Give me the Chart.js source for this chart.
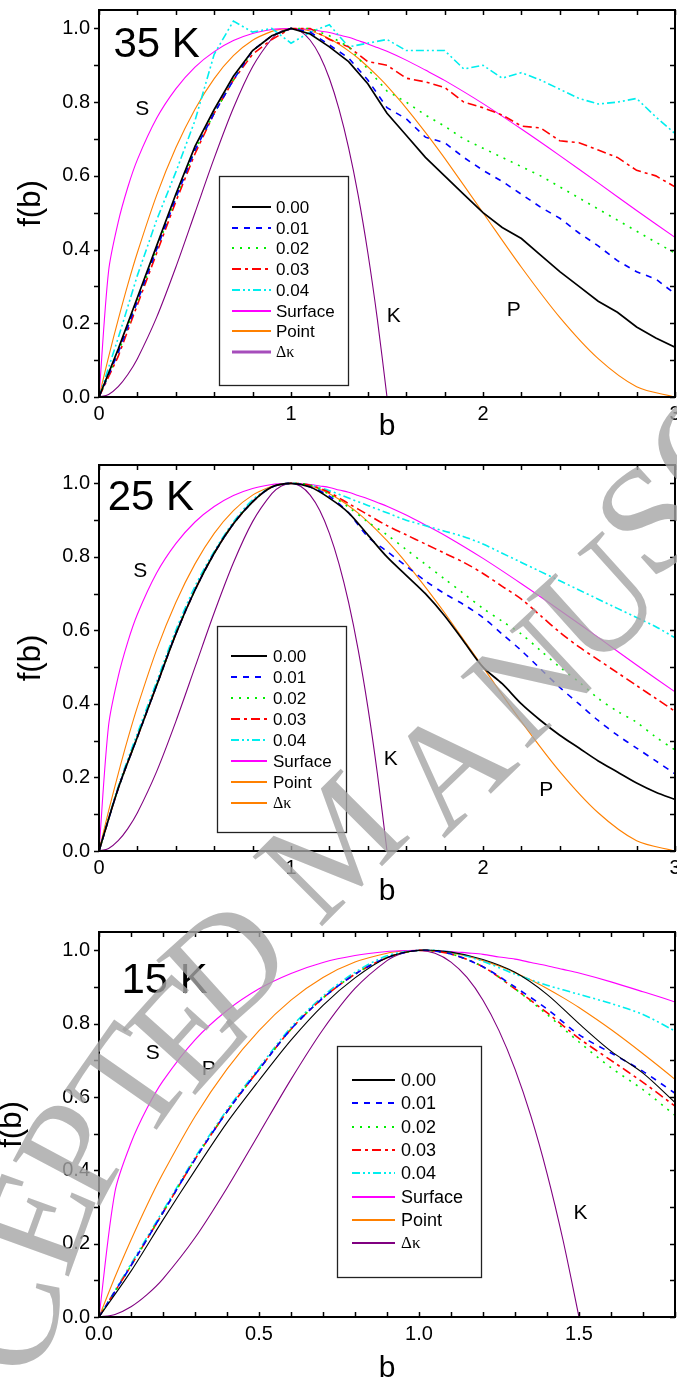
<!DOCTYPE html>
<html>
<head>
<meta charset="utf-8">
<script src="https://cdn.jsdelivr.net/npm/chart.js@4.4.0/dist/chart.umd.min.js"></script>
<style>
body { margin: 0; background: #fff; width: 677px; height: 1383px; position: relative; overflow: hidden; }
canvas { position: absolute; left: 0; }
.wm { position: absolute; font-family: "Liberation Serif", serif; font-size: 150px; line-height: 1;
      color: rgba(165,165,165,0.8); pointer-events: none; }
</style>
</head>
<body>
<canvas id="c35" width="677" height="455" style="top:0px"></canvas>
<canvas id="c25" width="677" height="465" style="top:455px"></canvas>
<canvas id="c15" width="677" height="463" style="top:920px"></canvas>

<!-- watermark -->
<div class="wm" style="left:5px;top:1320px;transform:translate(-50%,-50%) rotate(-80deg)">C</div>
<div class="wm" style="left:35px;top:1220px;transform:translate(-50%,-50%) rotate(-70deg)">E</div>
<div class="wm" style="left:72px;top:1150px;transform:translate(-50%,-50%) rotate(-62deg)">P</div>
<div class="wm" style="left:128px;top:1082px;transform:translate(-50%,-50%) rotate(-55deg)">T</div>
<div class="wm" style="left:185px;top:1030px;transform:translate(-50%,-50%) rotate(-48deg)">E</div>
<div class="wm" style="left:225px;top:962px;transform:translate(-50%,-50%) rotate(-42deg)">D</div>
<div class="wm" style="left:330px;top:846px;transform:translate(-50%,-50%) rotate(-45deg)">M</div>
<div class="wm" style="left:447px;top:765px;transform:translate(-50%,-50%) rotate(-44deg)">A</div>
<div class="wm" style="left:529px;top:677px;transform:translate(-50%,-50%) rotate(-43deg)">N</div>
<div class="wm" style="left:596px;top:600px;transform:translate(-50%,-50%) rotate(-42deg)">U</div>
<div class="wm" style="left:648px;top:518px;transform:translate(-50%,-50%) rotate(-42deg)">S</div>
<div class="wm" style="left:705px;top:445px;transform:translate(-50%,-50%) rotate(-42deg)">C</div>

<script>
// ---- data ----
var bGrid = [0, 0.1, 0.2, 0.3, 0.4, 0.5, 0.6, 0.7, 0.8, 0.9, 1.0, 1.1, 1.2, 1.3, 1.4, 1.5, 1.6, 1.7, 1.8, 1.9, 2.0,
             2.1, 2.2, 2.3, 2.4, 2.5, 2.6, 2.7, 2.8, 2.9, 3.0];
var bGrid15 = [0, 0.1, 0.2, 0.3, 0.4, 0.5, 0.6, 0.7, 0.8, 0.9, 1.0, 1.1, 1.2, 1.3, 1.4, 1.5, 1.6, 1.7, 1.8];

// 35 K
var f35_000 = [0, 0.13, 0.27, 0.41, 0.55, 0.68, 0.78, 0.87, 0.94, 0.98, 1.0, 0.985, 0.95, 0.91, 0.85, 0.77, 0.71, 0.65, 0.6, 0.55, 0.5, 0.46, 0.43, 0.385, 0.34, 0.30, 0.26, 0.23, 0.19, 0.16, 0.135];
var f35_001 = [0, 0.12, 0.26, 0.40, 0.54, 0.67, 0.77, 0.86, 0.94, 0.98, 1.0, 0.99, 0.955, 0.92, 0.86, 0.785, 0.755, 0.705, 0.69, 0.65, 0.615, 0.585, 0.55, 0.515, 0.485, 0.445, 0.41, 0.37, 0.34, 0.32, 0.28];
var f35_002 = [0, 0.12, 0.26, 0.40, 0.54, 0.67, 0.77, 0.86, 0.94, 0.98, 1.0, 1.0, 0.98, 0.95, 0.89, 0.83, 0.80, 0.765, 0.735, 0.70, 0.675, 0.65, 0.625, 0.60, 0.57, 0.54, 0.51, 0.48, 0.45, 0.42, 0.39];
var f35_003 = [0, 0.11, 0.25, 0.39, 0.53, 0.66, 0.77, 0.86, 0.93, 0.97, 1.0, 1.0, 0.97, 0.95, 0.91, 0.9, 0.865, 0.855, 0.84, 0.80, 0.785, 0.765, 0.735, 0.73, 0.695, 0.69, 0.67, 0.65, 0.615, 0.60, 0.57];
var f35_004 = [0, 0.16, 0.33, 0.48, 0.61, 0.75, 0.93, 1.02, 0.99, 1.0, 0.96, 0.99, 1.01, 0.95, 0.96, 0.97, 0.94, 0.94, 0.94, 0.89, 0.9, 0.865, 0.88, 0.86, 0.835, 0.81, 0.795, 0.80, 0.81, 0.76, 0.715];

// 25 K
var f25_000 = [0, 0.17, 0.31, 0.45, 0.59, 0.71, 0.81, 0.89, 0.95, 0.99, 1.0, 0.99, 0.96, 0.92, 0.86, 0.80, 0.75, 0.70, 0.64, 0.57, 0.50, 0.455, 0.40, 0.355, 0.315, 0.28, 0.245, 0.215, 0.185, 0.16, 0.14];
var f25_001 = [0, 0.17, 0.31, 0.45, 0.59, 0.71, 0.81, 0.89, 0.95, 0.99, 1.0, 0.99, 0.965, 0.92, 0.855, 0.815, 0.775, 0.735, 0.70, 0.67, 0.635, 0.59, 0.545, 0.495, 0.445, 0.40, 0.355, 0.315, 0.28, 0.245, 0.21];
var f25_002 = [0, 0.17, 0.31, 0.45, 0.59, 0.71, 0.81, 0.89, 0.95, 0.99, 1.0, 0.995, 0.97, 0.935, 0.895, 0.86, 0.82, 0.78, 0.74, 0.70, 0.66, 0.625, 0.59, 0.545, 0.50, 0.46, 0.415, 0.38, 0.35, 0.31, 0.275];
var f25_003 = [0, 0.17, 0.31, 0.45, 0.59, 0.71, 0.81, 0.89, 0.95, 0.99, 1.0, 0.995, 0.975, 0.945, 0.915, 0.885, 0.86, 0.835, 0.81, 0.785, 0.755, 0.72, 0.685, 0.64, 0.595, 0.555, 0.52, 0.485, 0.45, 0.415, 0.38];
var f25_004 = [0, 0.175, 0.32, 0.46, 0.60, 0.72, 0.815, 0.895, 0.955, 0.99, 1.0, 0.995, 0.98, 0.96, 0.94, 0.92, 0.90, 0.885, 0.87, 0.855, 0.835, 0.81, 0.785, 0.76, 0.735, 0.71, 0.685, 0.66, 0.635, 0.61, 0.58];

// 15 K
var f15_000 = [0, 0.125, 0.265, 0.40, 0.53, 0.645, 0.755, 0.85, 0.925, 0.98, 1.0, 0.995, 0.975, 0.94, 0.88, 0.80, 0.725, 0.665, 0.585];
var f15_001 = [0, 0.14, 0.285, 0.43, 0.56, 0.675, 0.785, 0.87, 0.935, 0.98, 1.0, 0.99, 0.955, 0.90, 0.84, 0.77, 0.72, 0.67, 0.61];
var f15_002 = [0, 0.14, 0.285, 0.43, 0.56, 0.675, 0.785, 0.87, 0.935, 0.98, 1.0, 0.99, 0.955, 0.895, 0.825, 0.75, 0.68, 0.62, 0.55];
var f15_003 = [0, 0.14, 0.285, 0.43, 0.56, 0.675, 0.785, 0.87, 0.935, 0.98, 1.0, 0.99, 0.955, 0.895, 0.83, 0.76, 0.70, 0.64, 0.575];
var f15_004 = [0, 0.145, 0.29, 0.435, 0.565, 0.68, 0.79, 0.875, 0.94, 0.985, 1.0, 0.995, 0.97, 0.935, 0.905, 0.88, 0.855, 0.825, 0.78];

// model curves (same in every panel)
var bModel = [0, 0.05, 0.1, 0.15, 0.2, 0.3, 0.4, 0.5, 0.6, 0.7, 0.8, 0.9, 0.95, 1.0, 1.05, 1.1, 1.15, 1.2, 1.25, 1.3, 1.35,
              1.4, 1.45, 1.5, 1.6, 1.7, 1.8, 2.0, 2.2, 2.4, 2.6, 2.8, 3.0];
var fSurface = [0, 0.342, 0.4745, 0.569, 0.644, 0.756, 0.836, 0.895, 0.937, 0.967, 0.986, 0.997, 0.999, 1.0, 0.999, 0.997, 0.993, 0.989, 0.982, 0.976, 0.967,
                0.958, 0.948, 0.938, 0.914, 0.887, 0.859, 0.796, 0.727, 0.655, 0.581, 0.506, 0.433];
var fPoint = [0, 0.109, 0.210, 0.305, 0.392, 0.547, 0.676, 0.781, 0.864, 0.926, 0.968, 0.992, 0.998, 1.0, 0.998, 0.993, 0.984, 0.972, 0.957, 0.939, 0.919,
              0.896, 0.871, 0.844, 0.784, 0.718, 0.648, 0.5, 0.352, 0.216, 0.104, 0.028, 0];
var bKappa = [0, 0.05, 0.1, 0.15, 0.2, 0.3, 0.4, 0.5, 0.6, 0.7, 0.8, 0.9, 0.95, 1.0, 1.05, 1.1, 1.15, 1.2, 1.25, 1.3, 1.35, 1.4, 1.45, 1.5];
var fKappa = [0, 0.007, 0.028, 0.061, 0.104, 0.216, 0.352, 0.5, 0.648, 0.784, 0.896, 0.972, 0.993, 1.0, 0.992, 0.968, 0.926, 0.864, 0.781, 0.676, 0.547, 0.392, 0.210, 0];

var seriesLabels = ['0.00', '0.01', '0.02', '0.03', '0.04', 'Surface', 'Point', '\u0394\u03ba'];

var FONT = '"Liberation Sans", Arial, sans-serif';

function pts(xs, ys) {
  return xs.map(function (x, i) { return { x: x, y: ys[i] }; });
}

function buildSets(bx, d, blackWidth, kappaLegend, tension) {
  return [
    { label: seriesLabels[0], data: pts(bx, d[0]), borderColor: '#000000', borderWidth: blackWidth, tension: tension },
    { label: seriesLabels[1], data: pts(bx, d[1]), borderColor: '#0000ff', borderWidth: 1.6, borderDash: [6, 6], tension: tension },
    { label: seriesLabels[2], data: pts(bx, d[2]), borderColor: '#00ee00', borderWidth: 1.6, borderDash: [2, 6], tension: tension },
    { label: seriesLabels[3], data: pts(bx, d[3]), borderColor: '#ff0000', borderWidth: 1.6, borderDash: [9, 4, 3, 4], tension: tension },
    { label: seriesLabels[4], data: pts(bx, d[4]), borderColor: '#00eeee', borderWidth: 1.6, borderDash: [8, 3, 2, 3, 2, 3], tension: tension },
    { label: seriesLabels[5], data: pts(bModel, fSurface), borderColor: '#ff00ff', borderWidth: 1.1 },
    { label: seriesLabels[6], data: pts(bModel, fPoint), borderColor: '#ff8000', borderWidth: 1.1 },
    { label: seriesLabels[7], data: pts(bKappa, fKappa), borderColor: '#800080', borderWidth: 1.1,
      legendColor: kappaLegend.color, legendWidth: kappaLegend.width }
  ];
}

// frame with ticks: inward on bottom, top and right, outward on the left
var frameTicks = {
  id: 'frameTicks',
  afterDatasetsDraw: function (chart, args, o) {
    var ctx = chart.ctx, a = chart.chartArea, xs = chart.scales.x, ys = chart.scales.y;
    ctx.save();
    ctx.strokeStyle = '#000';
    ctx.lineWidth = 1.5;
    ctx.beginPath();
    var n = Math.round((xs.max - xs.min) / o.xStep), i, p;
    for (i = 0; i <= n; i++) {
      p = Math.round(xs.getPixelForValue(xs.min + i * o.xStep)) + 0.5;
      ctx.moveTo(p, a.bottom); ctx.lineTo(p, a.bottom - 5);
      ctx.moveTo(p, a.top); ctx.lineTo(p, a.top + 5);
    }
    n = Math.floor((ys.max - ys.min) / o.yStep + 1e-6);
    for (i = 0; i <= n; i++) {
      p = Math.round(ys.getPixelForValue(ys.min + i * o.yStep)) + 0.5;
      ctx.moveTo(a.left, p); ctx.lineTo(a.left - 5, p);
      ctx.moveTo(a.right, p); ctx.lineTo(a.right - 5, p);
    }
    ctx.stroke();
    ctx.lineWidth = 2;
    ctx.strokeRect(a.left, a.top, a.right - a.left, a.bottom - a.top);
    ctx.restore();
  }
};

// text marks placed in data coordinates
var textMarks = {
  id: 'textMarks',
  afterDatasetsDraw: function (chart, args, o) {
    var ctx = chart.ctx, xs = chart.scales.x, ys = chart.scales.y;
    ctx.save();
    ctx.fillStyle = '#000';
    ctx.textAlign = 'center';
    ctx.textBaseline = 'middle';
    o.items.forEach(function (it) {
      ctx.font = it.size + 'px ' + FONT;
      ctx.fillText(it.text, xs.getPixelForValue(it.x), ys.getPixelForValue(it.y));
    });
    ctx.restore();
  }
};

// boxed legend inside the plot
var boxLegend = {
  id: 'boxLegend',
  afterDraw: function (chart, args, o) {
    var ctx = chart.ctx;
    ctx.save();
    ctx.fillStyle = '#fff';
    ctx.fillRect(o.x, o.y, o.w, o.h);
    ctx.strokeStyle = '#222';
    ctx.lineWidth = 1.3;
    ctx.strokeRect(o.x + 0.5, o.y + 0.5, o.w, o.h);
    chart.data.datasets.forEach(function (ds, i) {
      var yy = Math.round(o.y + o.first + i * o.step);
      ctx.beginPath();
      ctx.setLineDash(ds.borderDash || []);
      ctx.strokeStyle = ds.legendColor || ds.borderColor;
      ctx.lineWidth = Math.max(1.8, ds.legendWidth || ds.borderWidth);
      ctx.moveTo(o.x + o.l1, yy);
      ctx.lineTo(o.x + o.l2, yy);
      ctx.stroke();
      ctx.setLineDash([]);
      ctx.fillStyle = '#000';
      ctx.textBaseline = 'middle';
      ctx.font = i === 7 ? (o.size - 1) + 'px "Liberation Serif", serif' : o.size + 'px ' + FONT;
      ctx.fillText(ds.label, o.x + o.tx, yy + 1);
    });
    ctx.restore();
  }
};

function makePanel(id, p) {
  new Chart(document.getElementById(id), {
    type: 'scatter',
    data: { datasets: p.sets },
    plugins: [frameTicks, textMarks, boxLegend],
    options: {
      responsive: false,
      animation: false,
      devicePixelRatio: 1,
      showLine: true,
      layout: { padding: { top: p.top, right: 2, left: 0, bottom: 0 } },
      elements: { point: { radius: 0 }, line: { tension: 0.3, fill: false } },
      plugins: {
        legend: { display: false },
        tooltip: { enabled: false },
        frameTicks: { xStep: p.xMinor, yStep: 0.1 },
        textMarks: { items: p.marks },
        boxLegend: p.legend
      },
      scales: {
        x: {
          type: 'linear', min: 0, max: p.xMax,
          grid: { display: false, drawTicks: false }, border: { display: false },
          ticks: { stepSize: p.xStep, includeBounds: false, padding: 5, color: '#000',
                   font: { family: FONT, size: 20 }, maxRotation: 0,
                   callback: function (v) { return p.xFmt(v); } },
          title: { display: true, text: 'b', color: '#000', font: { family: FONT, size: 30, lineHeight: 1.2 },
                   padding: { top: 0, bottom: p.xTitlePad } },
          afterFit: function (s) { s.height = p.xHeight; s.paddingLeft = 0; s.paddingRight = 0; }
        },
        y: {
          type: 'linear', min: 0, max: 1.05,
          grid: { display: false, drawTicks: false }, border: { display: false },
          ticks: { stepSize: 0.2, includeBounds: false, padding: 9, color: '#000',
                   font: { family: FONT, size: 20 },
                   callback: function (v) { return v.toFixed(1); } },
          title: { display: true, text: 'f(b)', color: '#000', font: { family: FONT, size: 31, lineHeight: 1.2 },
                   padding: { top: p.yTitlePad, bottom: 0 } },
          afterFit: function (s) { s.width = 99; s.paddingTop = 0; s.paddingBottom = 0; }
        }
      }
    }
  });
}

makePanel('c35', {
  sets: buildSets(bGrid, [f35_000, f35_001, f35_002, f35_003, f35_004], 1.7, { color: '#a64dbb', width: 3 }, 0),
  top: 10, xHeight: 58, xMax: 3, xStep: 1, xMinor: 0.2, xTitlePad: 10, yTitlePad: 13,
  xFmt: function (v) { return String(v); },
  marks: [
    { text: '35 K', x: 0.30, y: 0.955, size: 42 },
    { text: 'S', x: 0.225, y: 0.78, size: 21 },
    { text: 'K', x: 1.535, y: 0.22, size: 21 },
    { text: 'P', x: 2.16, y: 0.235, size: 21 }
  ],
  legend: { x: 219, y: 176, w: 129, h: 209, first: 31, step: 20.7, l1: 13, l2: 52, tx: 57, size: 17 }
});

makePanel('c25', {
  sets: buildSets(bGrid, [f25_000, f25_001, f25_002, f25_003, f25_004], 1.7, { color: '#ff8000', width: 1.2 }, 0.3),
  top: 10, xHeight: 69, xMax: 3, xStep: 1, xMinor: 0.2, xTitlePad: 10, yTitlePad: 13,
  xFmt: function (v) { return String(v); },
  marks: [
    { text: '25 K', x: 0.27, y: 0.96, size: 42 },
    { text: 'S', x: 0.215, y: 0.76, size: 21 },
    { text: 'K', x: 1.52, y: 0.25, size: 21 },
    { text: 'P', x: 2.33, y: 0.166, size: 21 }
  ],
  legend: { x: 217, y: 171, w: 129, h: 206, first: 30, step: 21, l1: 14, l2: 50, tx: 56, size: 17 }
});

makePanel('c15', {
  sets: buildSets(bGrid15, [f15_000, f15_001, f15_002, f15_003, f15_004], 1.1, { color: '#800080', width: 1.2 }, 0.3),
  top: 12, xHeight: 66, xMax: 1.8, xStep: 0.5, xMinor: 0.1, xTitlePad: -4, yTitlePad: -6,
  xFmt: function (v) { return v.toFixed(1); },
  marks: [
    { text: '15 K', x: 0.205, y: 0.916, size: 42 },
    { text: 'S', x: 0.168, y: 0.72, size: 21 },
    { text: 'P', x: 0.343, y: 0.677, size: 21 },
    { text: 'K', x: 1.505, y: 0.283, size: 21 }
  ],
  legend: { x: 337, y: 126, w: 144, h: 231, first: 34, step: 23.3, l1: 15, l2: 58, tx: 64, size: 18 }
});
</script>
</body>
</html>
